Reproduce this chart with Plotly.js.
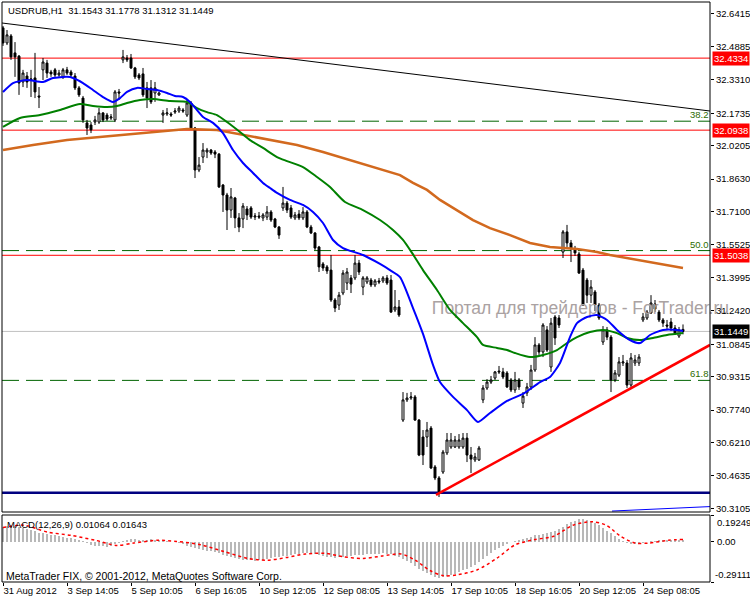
<!DOCTYPE html>
<html><head><meta charset="utf-8">
<script src="https://cdn.plot.ly/plotly-3.0.1.min.js"></script>
<style>html,body{margin:0;padding:0;background:#fff;}#chart{width:750px;height:600px;}</style>
</head><body><div id="chart"></div>
<script>
// ---------------- DATA ----------------
const symbolTitle = 'USDRUB,H1\u00a0\u00a031.1543 31.1778 31.1312 31.1449';
const macdTitle = 'MACD(12,26,9) 0.01064 0.01643';
const copyrightText = 'MetaTrader FIX, \u00a9 2001-2012, MetaQuotes Software Corp.';
const watermarkText = 'Портал для трейдеров - ForTrader.ru';

const openP = [32.576,32.505,32.538,32.458,32.443,32.321,32.349,32.330,32.340,32.255,
32.378,32.410,32.368,32.378,32.354,32.345,32.378,32.368,32.349,32.293,
32.245,32.128,32.118,32.132,32.132,32.175,32.165,32.151,32.142,32.274,
32.425,32.434,32.434,32.387,32.354,32.359,32.293,32.293,32.269,32.260,
32.165,32.170,32.170,32.179,32.184,32.189,32.165,32.222,32.104,31.906,
31.967,31.991,32.000,31.991,31.981,31.835,31.788,31.717,31.774,31.680,
31.675,31.722,31.727,31.684,31.689,31.680,31.684,31.708,31.675,31.637,
31.727,31.750,31.727,31.680,31.698,31.680,31.708,31.637,31.609,31.543,
31.463,31.449,31.434,31.293,31.269,31.326,31.373,31.397,31.397,31.467,
31.354,31.378,31.387,31.364,31.383,31.383,31.397,31.387,31.246,31.260,
30.727,30.822,30.831,30.836,30.727,30.647,30.647,30.689,30.506,30.454,
30.482,30.572,30.600,30.600,30.600,30.600,30.642,30.562,30.539,30.539,
30.822,30.878,30.906,30.925,30.958,30.954,30.949,30.916,30.869,30.916,
30.807,30.855,30.883,30.963,31.081,31.048,31.152,30.977,31.213,31.208,
31.519,31.614,31.562,31.534,31.510,31.434,31.387,31.316,31.331,31.269,
31.095,31.152,31.118,30.916,30.939,30.996,30.996,30.892,30.996,30.996,
31.199,31.208,31.232,31.274,31.236,31.199,31.175,31.189,31.161,31.123,
31.1543];
const highP = [32.585,32.566,32.547,32.509,32.448,32.378,32.368,32.378,32.458,32.297,
32.434,32.425,32.378,32.387,32.378,32.387,32.392,32.378,32.363,32.302,
32.255,32.142,32.132,32.161,32.198,32.179,32.175,32.170,32.283,32.288,
32.472,32.448,32.453,32.392,32.363,32.387,32.321,32.330,32.321,32.274,
32.189,32.198,32.179,32.198,32.208,32.198,32.236,32.231,32.109,31.967,
32.033,32.010,32.005,32.000,31.986,31.840,31.798,31.821,31.779,31.703,
31.750,31.736,31.736,31.703,31.708,31.703,31.736,31.717,31.680,31.642,
31.826,31.760,31.741,31.708,31.717,31.731,31.717,31.647,31.613,31.548,
31.472,31.458,31.505,31.302,31.331,31.434,31.444,31.411,31.505,31.482,
31.406,31.406,31.397,31.392,31.397,31.406,31.411,31.411,31.340,31.293,
30.859,30.855,30.859,30.845,30.732,30.680,30.718,30.699,30.515,30.463,
30.586,30.666,30.666,30.652,30.661,30.666,30.666,30.600,30.572,30.605,
30.892,30.920,30.935,30.958,30.982,30.973,30.958,30.925,30.954,30.925,
30.859,30.902,30.987,31.118,31.090,31.184,31.170,31.208,31.222,31.222,
31.623,31.647,31.576,31.548,31.520,31.444,31.397,31.387,31.340,31.279,
31.170,31.166,31.128,30.963,31.024,31.034,31.010,31.043,31.034,31.038,
31.232,31.246,31.316,31.293,31.246,31.208,31.199,31.208,31.175,31.166,
31.1778];
const lowP = [32.491,32.495,32.425,32.345,32.260,32.297,32.293,32.250,32.245,32.198,
32.330,32.340,32.345,32.340,32.345,32.335,32.354,32.345,32.283,32.250,
32.128,32.071,32.080,32.118,32.123,32.132,32.137,32.142,32.132,32.236,
32.410,32.415,32.382,32.335,32.330,32.250,32.198,32.217,32.227,32.255,
32.128,32.161,32.156,32.170,32.175,32.175,32.156,32.095,31.868,31.896,
31.939,31.962,31.977,31.962,31.821,31.708,31.623,31.680,31.632,31.613,
31.632,31.670,31.675,31.670,31.675,31.665,31.670,31.661,31.632,31.581,
31.713,31.703,31.675,31.670,31.670,31.670,31.632,31.604,31.529,31.425,
31.430,31.416,31.284,31.236,31.246,31.316,31.340,31.326,31.387,31.411,
31.316,31.368,31.354,31.354,31.368,31.373,31.364,31.232,31.236,31.213,
30.718,30.812,30.822,30.723,30.557,30.515,30.600,30.496,30.444,30.364,
30.473,30.562,30.591,30.595,30.591,30.591,30.529,30.477,30.529,30.534,
30.807,30.869,30.897,30.916,30.944,30.920,30.878,30.859,30.855,30.869,
30.784,30.840,30.869,30.954,31.034,31.024,31.048,30.954,31.081,31.161,
31.491,31.543,31.472,31.501,31.416,31.265,31.279,31.279,31.241,31.199,
31.081,31.104,30.859,30.906,30.930,30.982,30.878,30.883,30.982,30.982,
31.189,31.199,31.227,31.236,31.189,31.166,31.152,31.147,31.128,31.114,
31.1312];
const closeP = [32.505,32.543,32.439,32.439,32.316,32.363,32.321,32.335,32.274,32.250,
32.415,32.363,32.359,32.354,32.363,32.378,32.363,32.354,32.293,32.260,
32.142,32.104,32.095,32.142,32.175,32.142,32.146,32.156,32.274,32.269,
32.439,32.425,32.387,32.345,32.340,32.260,32.245,32.227,32.293,32.269,
32.175,32.175,32.165,32.184,32.198,32.184,32.222,32.104,31.906,31.929,
32.000,32.000,31.986,31.981,31.826,31.788,31.717,31.779,31.680,31.637,
31.736,31.694,31.684,31.689,31.684,31.694,31.708,31.670,31.637,31.599,
31.750,31.717,31.684,31.694,31.680,31.708,31.637,31.609,31.538,31.449,
31.444,31.430,31.293,31.255,31.316,31.420,31.425,31.368,31.467,31.425,
31.397,31.397,31.364,31.383,31.378,31.397,31.373,31.236,31.260,31.222,
30.822,30.831,30.836,30.727,30.562,30.562,30.680,30.501,30.454,30.388,
30.576,30.633,30.633,30.633,30.633,30.642,30.562,30.543,30.553,30.595,
30.878,30.906,30.916,30.954,30.954,30.930,30.883,30.869,30.916,30.883,
30.840,30.883,30.963,31.081,31.048,31.175,31.057,31.184,31.114,31.175,
31.614,31.562,31.538,31.515,31.420,31.269,31.316,31.354,31.269,31.208,
31.152,31.118,30.916,30.949,31.001,31.001,30.892,31.020,31.010,31.024,
31.213,31.236,31.279,31.250,31.199,31.184,31.170,31.161,31.137,31.152,
31.1449];

// Moving averages (bar index, price)
const maFastX = [0,2.5,6,10,12.5,16,17.5,20,22.5,25,27.5,29.25,31,33.5,36,38.5,41,43,45,46.75,50,52.5,55,57.5,60,62.5,65,66.75,68.5,71.75,75,77.5,80,82.5,85,90,94.25,96.75,99.25,102.5,105,107.5,109.25,112.5,116,118.75,121.75,126,130,134.25,136.75,139.25,141.75,143.5,146,148.5,151,153.5,156.75,159.25,161.75,165,168.5,170];
const maFastY = [32.274,32.316,32.330,32.321,32.340,32.345,32.340,32.316,32.283,32.250,32.227,32.245,32.274,32.293,32.288,32.283,32.269,32.255,32.250,32.227,32.156,32.128,32.080,32.000,31.939,31.892,31.845,31.821,31.798,31.765,31.741,31.708,31.656,31.576,31.538,31.505,31.463,31.434,31.401,31.255,31.133,30.987,30.906,30.836,30.774,30.718,30.760,30.817,30.850,30.906,30.930,30.996,31.118,31.184,31.213,31.222,31.199,31.152,31.104,31.090,31.128,31.152,31.152,31.147];
const maMidX = [0,4.25,9.25,14.25,19.25,22.5,26,28.5,31,34.25,37.5,41.75,46,48.5,51,53.5,56,59.25,61.75,65,68.5,71,75,78.5,81.75,85.5,90,94.25,97.5,100,102.25,105,108.5,111.75,115,118.5,120,123.5,126,128,131.75,135,138.5,141,143.5,146.75,150,153.5,156,159.25,162.5,166,170];
const maMidY = [32.109,32.151,32.165,32.189,32.217,32.208,32.203,32.208,32.222,32.236,32.241,32.231,32.227,32.198,32.179,32.165,32.132,32.085,32.047,32.010,31.967,31.948,31.920,31.873,31.826,31.755,31.717,31.670,31.623,31.576,31.515,31.434,31.340,31.246,31.184,31.118,31.081,31.067,31.057,31.043,31.024,31.034,31.057,31.090,31.118,31.142,31.152,31.137,31.114,31.104,31.114,31.128,31.137];
const maSlowX = [0,7.5,16,24.25,32.5,39.25,46,53.5,60,66.75,73.5,80,84.25,88.5,92.5,96.75,99.25,102.5,106,109.25,113.5,117.5,121.75,126.75,131.75,136.75,143.5,148.5,151.75,158.5,163.5,170];
const maSlowY = [32.000,32.024,32.047,32.061,32.076,32.090,32.099,32.095,32.071,32.047,32.024,31.991,31.967,31.944,31.920,31.896,31.882,31.845,31.812,31.765,31.717,31.670,31.632,31.599,31.562,31.543,31.534,31.519,31.505,31.482,31.468,31.444];

// MACD
const macdHist = [0.105,0.112,0.115,0.113,0.105,0.098,0.090,0.082,0.075,0.066,
0.062,0.056,0.050,0.045,0.040,0.036,0.030,0.026,0.020,0.014,
0.005,-0.010,-0.022,-0.028,-0.030,-0.033,-0.035,-0.033,-0.020,-0.010,
0.005,0.012,0.016,0.016,0.015,0.012,0.015,0.016,0.013,0.010,
0.005,0.002,0.000,-0.003,-0.008,-0.020,-0.030,-0.038,-0.048,-0.055,
-0.060,-0.065,-0.070,-0.078,-0.085,-0.095,-0.105,-0.112,-0.118,-0.125,
-0.130,-0.133,-0.135,-0.136,-0.135,-0.130,-0.122,-0.115,-0.112,-0.110,
-0.105,-0.100,-0.095,-0.092,-0.088,-0.085,-0.084,-0.086,-0.090,-0.098,
-0.105,-0.108,-0.112,-0.115,-0.112,-0.108,-0.105,-0.103,-0.098,-0.095,
-0.093,-0.092,-0.090,-0.088,-0.086,-0.085,-0.086,-0.090,-0.100,-0.108,
-0.125,-0.140,-0.155,-0.175,-0.195,-0.210,-0.225,-0.240,-0.252,-0.262,
-0.258,-0.250,-0.242,-0.232,-0.220,-0.205,-0.195,-0.180,-0.165,-0.150,
-0.125,-0.105,-0.085,-0.062,-0.045,-0.030,-0.015,-0.005,0.005,0.012,
0.018,0.025,0.035,0.045,0.050,0.058,0.065,0.072,0.080,0.088,
0.105,0.125,0.140,0.152,0.162,0.165,0.160,0.150,0.135,0.118,
0.100,0.080,0.060,0.040,0.020,0.002,-0.010,-0.015,-0.018,-0.020,
-0.012,-0.005,0.003,0.008,0.012,0.014,0.015,0.015,0.014,0.012,
0.01064];
const signalX = [0,5.2,11.2,17.1,23.1,28.5,32.7,38.6,43.4,49.4,55.3,61.3,66.1,70.9,75.6,80.4,85.2,90,94.7,99.5,103.1,106.7,110.2,113.8,118.6,123.4,128.1,132.9,137.7,142.5,147.2,150.8,154.4,158,161.5,166.3,170];
const signalY = [0.102,0.119,0.069,0.045,0.010,-0.027,-0.010,0.010,0.002,-0.022,-0.072,-0.121,-0.134,-0.114,-0.089,-0.084,-0.109,-0.121,-0.104,-0.089,-0.134,-0.208,-0.246,-0.238,-0.203,-0.121,-0.022,0.015,0.039,0.119,0.144,0.119,0.039,-0.010,-0.010,0.010,0.01643];
const macdMax = 0.19249, macdMin = -0.29111;

// Drawn objects
const resistLevels = [32.4334, 32.0938, 31.5038];
const fibLevels = [32.136, 31.526, 30.914];
const fibLabels = ['38.2', '50.0', '61.8'];
const bidPrice = 31.1449;
const supportLevel = 30.3845;
const downTrendX = [-0.25, 176.75], downTrendY = [32.599, 32.184];
const upTrendX = [108.25, 176.75], upTrendY = [30.374, 31.081];
const fibBaseX = [152.25, 176.75], fibBaseY = [30.298, 30.319];
const watermarkBar = 107.2, watermarkPrice = 31.246;

// Axes
const priceTicks = [32.6415,32.4885,32.3310,32.1735,32.0205,31.8630,31.7100,31.5525,31.3995,31.2420,31.0845,30.9315,30.7740,30.6210,30.4635,30.3105];
const timeTickBars = [0,16,32,48,64,80,96,112,128,144,160];
const timeTickLabels = ['31 Aug 2012','3 Sep 14:05','5 Sep 10:05','6 Sep 16:05','10 Sep 12:05','12 Sep 08:05','13 Sep 14:05','17 Sep 10:05','18 Sep 16:05','20 Sep 12:05','24 Sep 08:05'];
const priceRange = [30.2935, 32.698];
const barRange = [-0.25, 176.75];

// ---------------- CHART ----------------
const FONT = 'Liberation Sans, Arial, sans-serif';
const bars = openP.map((_, i) => i);
const H = 600, MT = 2, MB = 18, PH = H - MT - MB;
const mainDom = [(H - MB - 512) / PH, 1];
const macdDom = [0, (H - MB - 515) / PH];
const pxToPaperX = px => (px - 2) / 708;
const pxToPaperY = py => (H - MB - py) / PH;

const traces = [
  {type:'scatter', mode:'text', x:[watermarkBar], y:[watermarkPrice], text:[watermarkText],
   textposition:'middle right', textfont:{family:FONT, size:17.5, color:'#aaa2a2'},
   cliponaxis:false, hoverinfo:'skip', xaxis:'x', yaxis:'y'},
  {type:'candlestick', x:bars, open:openP, high:highP, low:lowP, close:closeP,
   increasing:{line:{color:'#000', width:1}, fillcolor:'#fff'},
   decreasing:{line:{color:'#000', width:1}, fillcolor:'#000'},
   whiskerwidth:0, hoverinfo:'skip', xaxis:'x', yaxis:'y'},
  {type:'scatter', mode:'lines', x:maSlowX, y:maSlowY, line:{color:'#d2691e', width:2.5}, hoverinfo:'skip', xaxis:'x', yaxis:'y'},
  {type:'scatter', mode:'lines', x:maMidX, y:maMidY, line:{color:'#008000', width:2, shape:'spline', smoothing:0.6}, hoverinfo:'skip', xaxis:'x', yaxis:'y'},
  {type:'scatter', mode:'lines', x:maFastX, y:maFastY, line:{color:'#0000ff', width:2, shape:'spline', smoothing:0.6}, hoverinfo:'skip', xaxis:'x', yaxis:'y'},
  {type:'scatter', mode:'lines', x:downTrendX, y:downTrendY, line:{color:'#000', width:1}, hoverinfo:'skip', xaxis:'x', yaxis:'y'},
  {type:'scatter', mode:'lines', x:upTrendX, y:upTrendY, line:{color:'#ff0000', width:2.5}, hoverinfo:'skip', xaxis:'x', yaxis:'y'},
  {type:'scatter', mode:'lines', x:fibBaseX, y:fibBaseY, line:{color:'#0000ff', width:1}, hoverinfo:'skip', xaxis:'x', yaxis:'y'},
  {type:'bar', x:bars, y:macdHist, width:0.3, marker:{color:'#b8b8b8', line:{width:0}}, hoverinfo:'skip', xaxis:'x', yaxis:'y2'},
  {type:'scatter', mode:'lines', x:signalX, y:signalY, line:{color:'#ff0000', width:1.5, dash:'dot', shape:'spline', smoothing:0.8}, hoverinfo:'skip', xaxis:'x', yaxis:'y2'}
];

const shapes = [];
resistLevels.forEach(v => shapes.push({type:'line', xref:'paper', x0:0, x1:1, yref:'y', y0:v, y1:v, line:{color:'#ff0000', width:1}, layer:'below'}));
fibLevels.forEach(v => shapes.push({type:'line', xref:'paper', x0:0, x1:1, yref:'y', y0:v, y1:v, line:{color:'#006400', width:1, dash:'17px,7px'}, layer:'below'}));
shapes.push({type:'line', xref:'paper', x0:0, x1:1, yref:'y', y0:bidPrice, y1:bidPrice, line:{color:'#c0c0c0', width:1}, layer:'below'});
shapes.push({type:'line', xref:'paper', x0:0, x1:1, yref:'y', y0:supportLevel, y1:supportLevel, line:{color:'#000080', width:2.5}, layer:'below'});
shapes.push({type:'rect', xref:'paper', yref:'paper', x0:0, x1:1, y0:mainDom[0], y1:mainDom[1], line:{color:'#000', width:1}, fillcolor:'rgba(0,0,0,0)'});
shapes.push({type:'rect', xref:'paper', yref:'paper', x0:0, x1:1, y0:macdDom[0], y1:macdDom[1], line:{color:'#000', width:1}, fillcolor:'rgba(0,0,0,0)'});

const annotations = [];
const txt = (o) => Object.assign({showarrow:false, font:{family:FONT, size:9.5, color:'#000'}}, o);
annotations.push(txt({text:symbolTitle, xref:'paper', yref:'paper', x:pxToPaperX(6), y:pxToPaperY(11), xanchor:'left', yanchor:'middle'}));
annotations.push(txt({text:macdTitle, xref:'paper', yref:'paper', x:pxToPaperX(5), y:pxToPaperY(524), xanchor:'left', yanchor:'middle'}));
annotations.push(txt({text:copyrightText, xref:'paper', yref:'paper', x:pxToPaperX(4), y:pxToPaperY(576), xanchor:'left', yanchor:'middle', font:{family:FONT, size:10.5, color:'#000'}}));
fibLevels.forEach((v, k) => annotations.push(txt({text:fibLabels[k], xref:'paper', yref:'y', x:1, y:v, xanchor:'right', yanchor:'bottom', borderpad:0, font:{family:FONT, size:9.5, color:'#2e6b00'}})));
resistLevels.forEach(v => annotations.push(txt({text:v.toFixed(4), xref:'paper', yref:'y', x:pxToPaperX(712), y:v, xanchor:'left', yanchor:'middle', bgcolor:'#ff0000', borderpad:1, font:{family:FONT, size:9.5, color:'#fff'}})));
annotations.push(txt({text:bidPrice.toFixed(4), xref:'paper', yref:'y', x:pxToPaperX(712), y:bidPrice, xanchor:'left', yanchor:'middle', bgcolor:'#000', borderpad:1, font:{family:FONT, size:9.5, color:'#fff'}}));
annotations.push(txt({text:macdMax.toFixed(5), xref:'paper', yref:'y2', x:pxToPaperX(715), y:macdMax, xanchor:'left', yanchor:'top'}));
annotations.push(txt({text:'0.00', xref:'paper', yref:'y2', x:pxToPaperX(715), y:0, xanchor:'left', yanchor:'middle'}));
annotations.push(txt({text:macdMin.toFixed(5), xref:'paper', yref:'y2', x:pxToPaperX(713), y:macdMin, xanchor:'left', yanchor:'bottom'}));

const layout = {
  width:750, height:600, margin:{l:2, r:40, t:MT, b:MB, pad:0},
  paper_bgcolor:'#fff', plot_bgcolor:'#fff', showlegend:false, bargap:0,
  font:{family:FONT, size:9.5, color:'#000'},
  xaxis:{range:barRange, anchor:'y2', tickvals:timeTickBars, ticktext:timeTickLabels,
         ticks:'outside', ticklen:3, tickcolor:'#000', ticklabelposition:'outside right',
         tickangle:0, automargin:false,
         showgrid:false, zeroline:false, showline:false, fixedrange:true,
         rangeslider:{visible:false}, tickfont:{family:FONT, size:9.5, color:'#000'}},
  yaxis:{domain:mainDom, range:priceRange, anchor:'x', side:'right',
         tickvals:priceTicks, ticktext:priceTicks.map(v => v.toFixed(4)),
         ticks:'outside', ticklen:3, tickcolor:'#000', showgrid:false, zeroline:false, automargin:false,
         showline:false, fixedrange:true, tickfont:{family:FONT, size:9.5, color:'#000'}},
  yaxis2:{domain:macdDom, range:[macdMin, macdMax], anchor:'x', side:'right',
          tickvals:[macdMax, 0, macdMin], ticks:'outside', ticklen:3, tickcolor:'#000', automargin:false,
          showticklabels:false, showgrid:false, zeroline:false, showline:false, fixedrange:true},
  shapes:shapes, annotations:annotations
};

Plotly.newPlot('chart', traces, layout, {staticPlot:true, displayModeBar:false});
</script></body></html>
